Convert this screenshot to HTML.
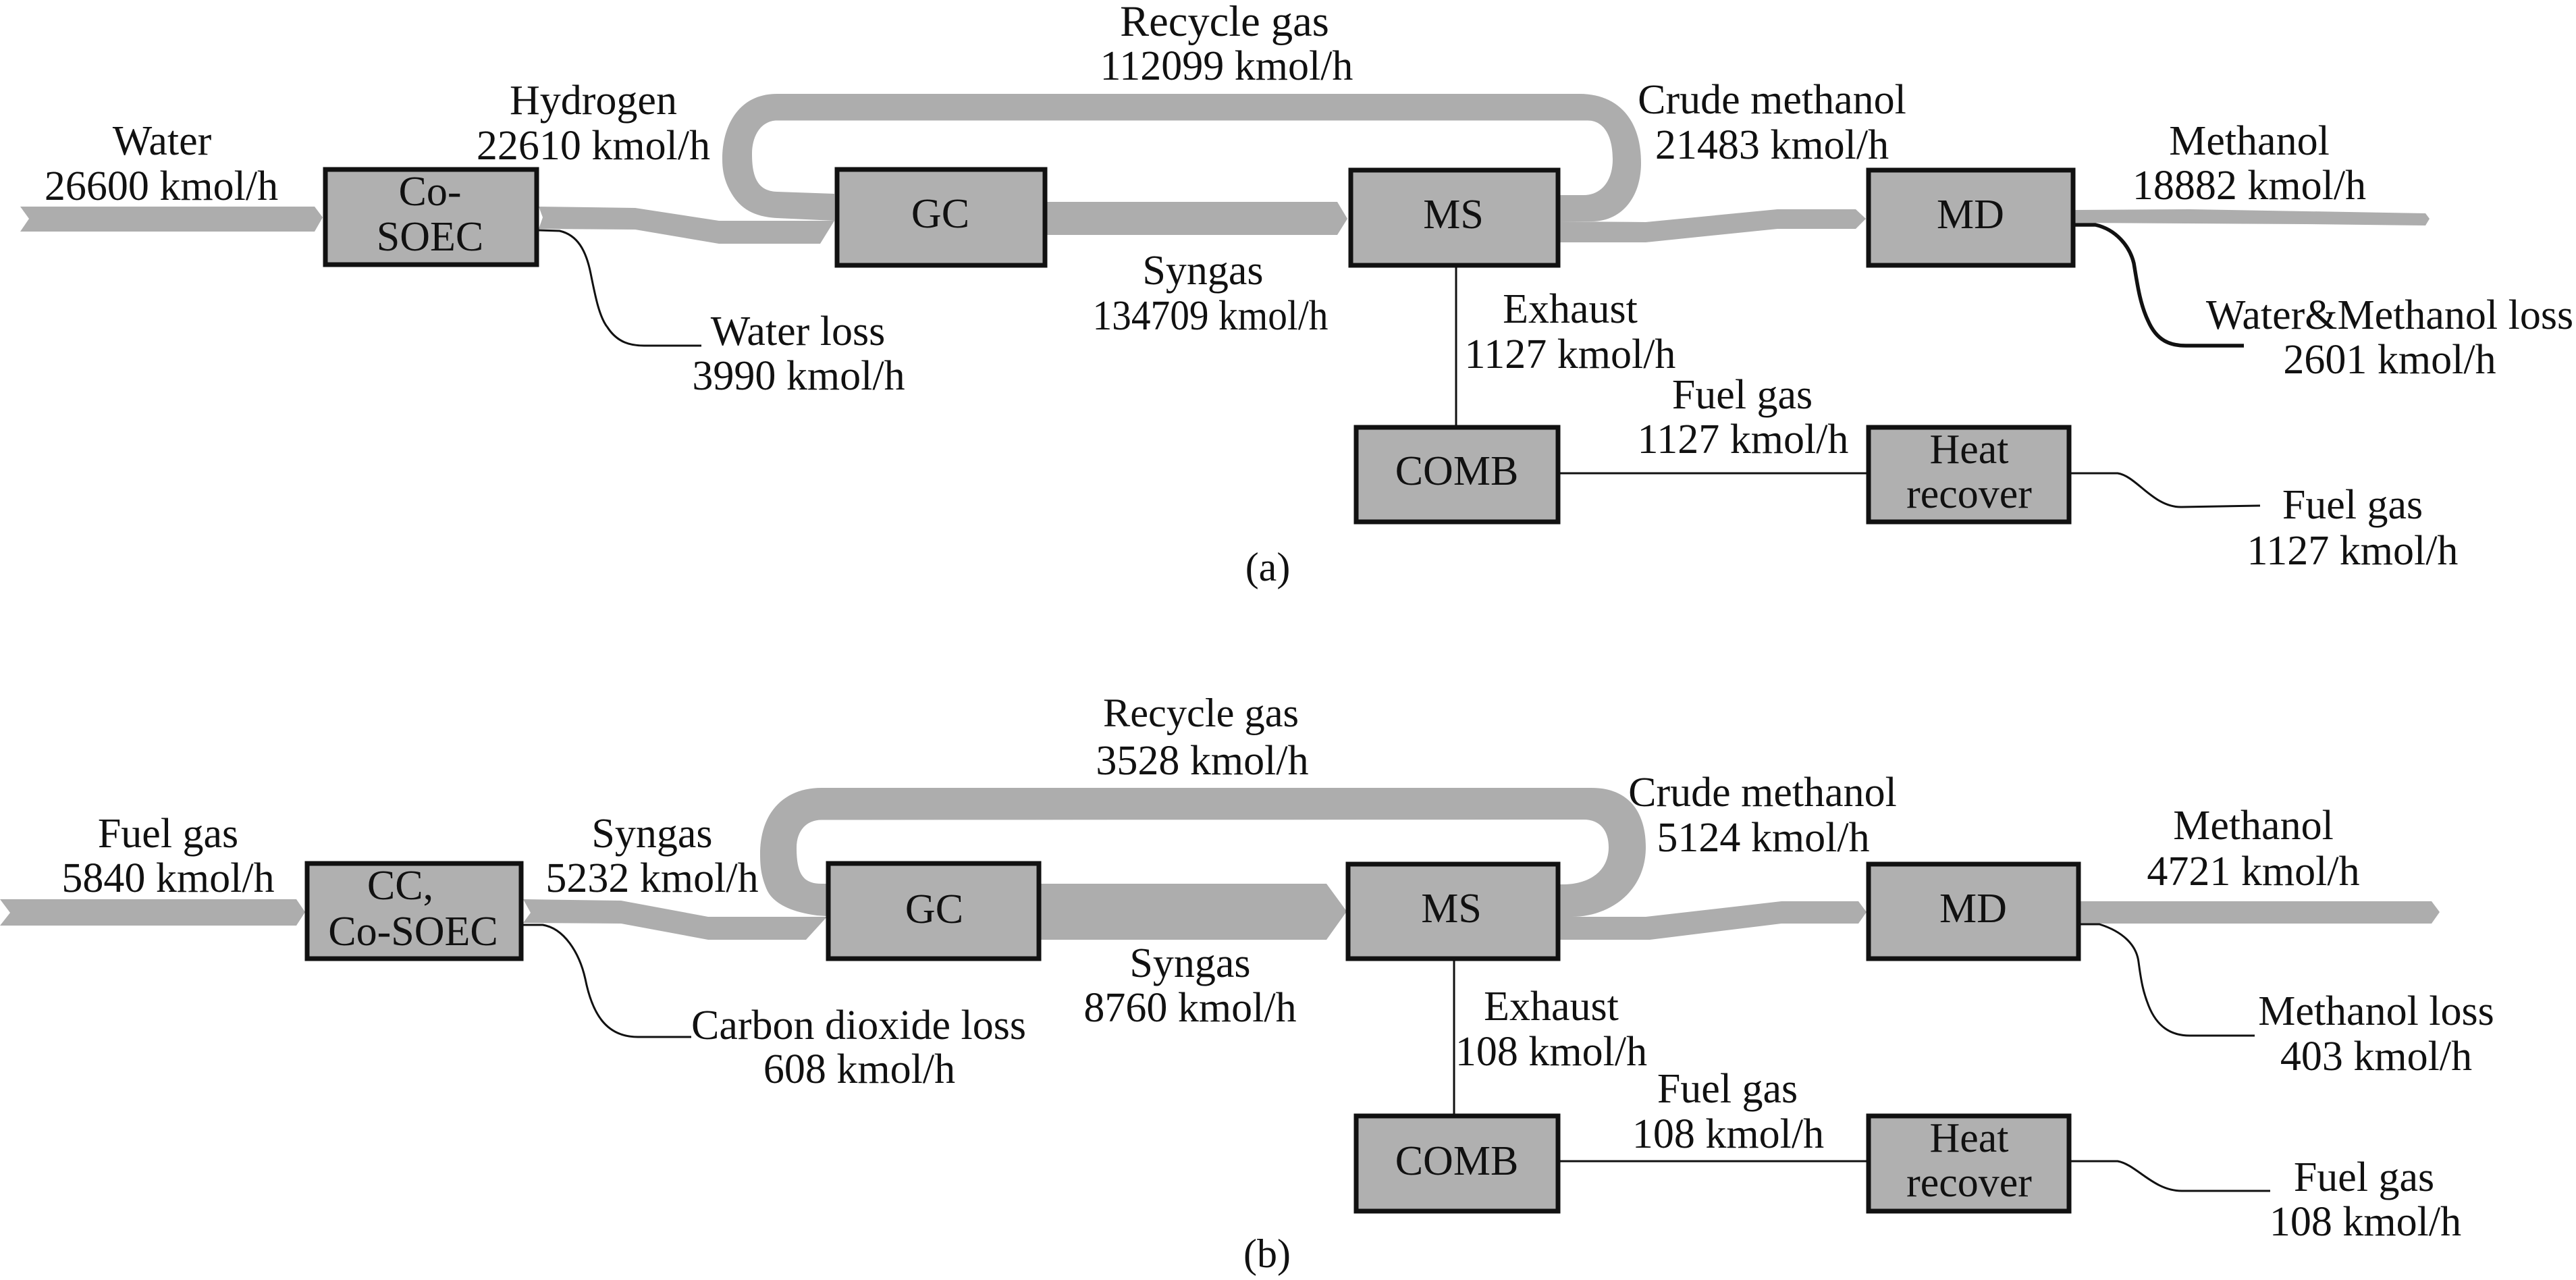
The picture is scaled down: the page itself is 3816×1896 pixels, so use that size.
<!DOCTYPE html>
<html>
<head>
<meta charset="utf-8">
<style>
html,body{margin:0;padding:0;background:#fff;}
svg{display:block;}
text{font-family:"Liberation Serif","Times New Roman",serif;font-size:62px;fill:#111;text-anchor:middle;}
.t{fill:#adadad;stroke:none;}
.b{fill:#b0b0b0;stroke:#111;stroke-width:7;}
.l{fill:none;stroke:#111;stroke-width:3;}
</style>
</head>
<body>
<svg width="3816" height="1896" viewBox="0 0 3816 1896" xmlns="http://www.w3.org/2000/svg">
<rect width="3816" height="1896" fill="#fff"/>

<!-- (a) flows -->
<polygon class="t" points="30,306 466,306 478,322 466,343 30,343 43,324"/>
<polygon class="t" points="798,306 941,308 1065,327 1236,327 1215,361 1065,361 941,340 798,339 804,322"/>
<path class="t" d="M2311,289 L2346,289 C2372,289 2389,268 2389,236 C2389,200 2375,178.5 2352,178.5 L1151,178.5 C1128,178.5 1114,200 1114,228 C1114,262 1122,283 1151,284 L1236,287 L1236,327 L1151,323 C1115,321 1095,308 1081,282 C1072,265 1070,250 1070,236 C1070,185 1095,139 1151,139 L2340,139 C2395,139 2431,175 2431,241 C2431,295 2400,328 2358,328 L2311,328 Z"/>
<polygon class="t" points="1551,299 1981,299 1996,324 1981,348 1551,348"/>
<polygon class="t" points="2311,328 2438,329 2633,310 2749,310 2764,324 2749,339 2633,339 2438,359 2311,359"/>
<polygon class="t" points="3074,311 3244,310 3593,316 3599,324 3593,334 3415,332 3074,330"/>

<!-- (a) lines -->
<path class="l" d="M798,341 L829,342 C855,348 868,370 875,405 C882,440 888,470 900,485 C915,508 935,512 954,512 L1039,512"/>
<path class="l" style="stroke-width:5.5" d="M3074,333 L3104,333 C3135,340 3155,365 3161,390 C3166,420 3170,450 3182,475 C3195,505 3215,512 3238,512 L3324,512"/>
<path class="l" d="M2157,396 L2157,630"/>
<path class="l" d="M2311,701 L2765,701"/>
<path class="l" d="M3068,701 L3137,701 C3165,705 3190,752 3232,751 L3348,749"/>

<!-- (a) boxes -->
<rect class="b" x="482" y="251" width="313" height="141"/>
<rect class="b" x="1240" y="251" width="308" height="142"/>
<rect class="b" x="2001" y="252" width="307" height="141"/>
<rect class="b" x="2768" y="252" width="303" height="141"/>
<rect class="b" x="2009" y="633" width="299" height="140"/>
<rect class="b" x="2768" y="633" width="297" height="140"/>

<!-- (a) labels -->
<text x="240" y="229">Water</text>
<text x="239" y="296">26600 kmol/h</text>
<text x="879" y="169">Hydrogen</text>
<text x="879" y="236">22610 kmol/h</text>
<text x="637" y="304">Co-</text>
<text x="637" y="371">SOEC</text>
<text x="1182" y="511">Water loss</text>
<text x="1183" y="577">3990 kmol/h</text>
<text x="1814" y="53" style="font-size:64.5px">Recycle gas</text>
<text x="1817" y="118">112099 kmol/h</text>
<text x="1393" y="337">GC</text>
<text x="1782" y="421">Syngas</text>
<text x="1793" y="488" textLength="349" lengthAdjust="spacingAndGlyphs">134709 kmol/h</text>
<text x="2153" y="338">MS</text>
<text x="2919" y="338">MD</text>
<text x="2625" y="168">Crude methanol</text>
<text x="2625" y="235">21483 kmol/h</text>
<text x="3332" y="229">Methanol</text>
<text x="3332" y="295">18882 kmol/h</text>
<text x="2326" y="478">Exhaust</text>
<text x="2326" y="545">1127 kmol/h</text>
<text x="2581" y="605">Fuel gas</text>
<text x="2582" y="671">1127 kmol/h</text>
<text x="2158" y="718">COMB</text>
<text x="2917" y="686">Heat</text>
<text x="2917" y="752">recover</text>
<text x="3485" y="768">Fuel gas</text>
<text x="3485" y="836">1127 kmol/h</text>
<text x="3540" y="487">Water&amp;Methanol loss</text>
<text x="3540" y="553">2601 kmol/h</text>
<text x="1878" y="860" style="font-size:60px">(a)</text>

<!-- (b) flows -->
<polygon class="t" points="0,1332 439,1332 452,1351 439,1371 0,1371 15,1352"/>
<polygon class="t" points="775,1332 920,1334 1049,1358 1225,1358 1194,1392 1049,1392 920,1368 775,1367 786,1352"/>
<path class="t" d="M2311,1310 L2315,1310 C2355,1310 2383,1290 2383,1255 C2383,1230 2370,1214 2346,1214 L1217,1214.5 C1195,1214.5 1180,1230 1180,1256 C1180,1295 1190,1309 1217,1309 L1224,1309 L1224,1357 L1210,1356 C1165,1350 1145,1335 1137,1320 C1128,1300 1126,1285 1126,1265 C1126,1205 1160,1167 1217,1167 L2358,1167 C2410,1167 2438,1200 2438,1255 C2438,1320 2385,1358 2328,1358 L2311,1358 Z"/>
<polygon class="t" points="1542,1309 1965,1309 1995,1350 1965,1392 1542,1392"/>
<polygon class="t" points="2311,1358 2438,1358 2639,1335 2753,1335 2765,1351 2753,1368 2639,1368 2444,1392 2311,1392"/>
<polygon class="t" points="3082,1335 3602,1335 3614,1351 3602,1368 3082,1368"/>

<!-- (b) lines -->
<path class="l" d="M775,1370 L804,1370 C835,1375 858,1410 867,1450 C878,1505 900,1536 945,1536 L1024,1536"/>
<path class="l" d="M3082,1369 L3110,1369 C3145,1380 3165,1400 3168,1425 C3172,1455 3175,1470 3183,1490 C3195,1520 3215,1534 3244,1534 L3340,1534"/>
<path class="l" d="M2154,1423 L2154,1650"/>
<path class="l" d="M2311,1720 L2765,1720"/>
<path class="l" d="M3068,1720 L3137,1720 C3165,1725 3190,1764 3232,1764 L3363,1764"/>

<!-- (b) boxes -->
<rect class="b" x="455" y="1279" width="317" height="141"/>
<rect class="b" x="1227" y="1279" width="312" height="141"/>
<rect class="b" x="1997" y="1280" width="311" height="140"/>
<rect class="b" x="2768" y="1280" width="311" height="140"/>
<rect class="b" x="2009" y="1653" width="299" height="141"/>
<rect class="b" x="2768" y="1653" width="297" height="141"/>

<!-- (b) labels -->
<text x="249" y="1255">Fuel gas</text>
<text x="249" y="1321">5840 kmol/h</text>
<text x="966" y="1255">Syngas</text>
<text x="966" y="1321">5232 kmol/h</text>
<text x="593" y="1332">CC,</text>
<text x="612" y="1400">Co-SOEC</text>
<text x="1272" y="1539">Carbon dioxide loss</text>
<text x="1273" y="1604">608 kmol/h</text>
<text x="1779" y="1076" style="font-size:60.4px">Recycle gas</text>
<text x="1781" y="1147">3528 kmol/h</text>
<text x="1384" y="1367">GC</text>
<text x="1763" y="1447">Syngas</text>
<text x="1763" y="1513">8760 kmol/h</text>
<text x="2150" y="1366">MS</text>
<text x="2923" y="1366">MD</text>
<text x="2611" y="1194">Crude methanol</text>
<text x="2612" y="1261">5124 kmol/h</text>
<text x="3338" y="1243">Methanol</text>
<text x="3338" y="1311">4721 kmol/h</text>
<text x="2298" y="1511">Exhaust</text>
<text x="2298" y="1578">108 kmol/h</text>
<text x="2559" y="1633">Fuel gas</text>
<text x="2560" y="1700">108 kmol/h</text>
<text x="2158" y="1740">COMB</text>
<text x="2917" y="1706">Heat</text>
<text x="2917" y="1772">recover</text>
<text x="3502" y="1764">Fuel gas</text>
<text x="3504" y="1830">108 kmol/h</text>
<text x="3520" y="1518">Methanol loss</text>
<text x="3520" y="1585">403 kmol/h</text>
<text x="1877" y="1877" style="font-size:60px">(b)</text>
</svg>
</body>
</html>
